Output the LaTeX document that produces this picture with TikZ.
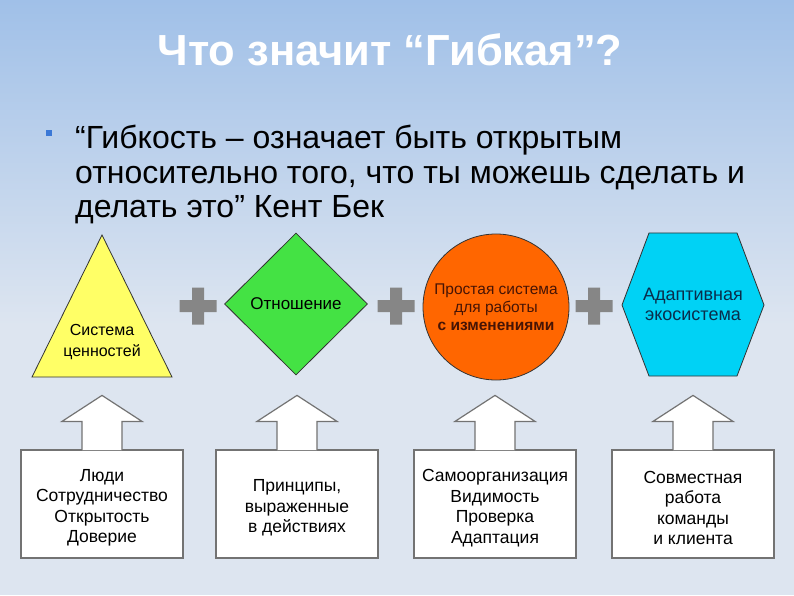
\documentclass[tikz,border=0pt]{standalone}
\usepackage{fontspec}
\setmainfont{Liberation Sans}
\usetikzlibrary{shapes,positioning,calc}

\definecolor{bgtop}{RGB}{160,192,232}
\definecolor{bgbot}{RGB}{221,229,240}
\definecolor{triyellow}{RGB}{255,255,102}
\definecolor{diagreen}{RGB}{68,226,68}
\definecolor{circorange}{RGB}{255,102,0}
\definecolor{hexcyan}{RGB}{0,210,245}
\definecolor{plusgray}{RGB}{134,134,134}
\definecolor{bulletblue}{RGB}{59,120,214}
\definecolor{circtext}{RGB}{70,20,5}
\definecolor{hextext}{RGB}{10,45,75}

\begin{document}
\begin{tikzpicture}[
        x=1pt, y=1pt,
        every node/.style={align=center, inner sep=0pt},
        shapeline/.style={draw=black!80, line width=0.8pt},
        shapetext/.style={font=\fontsize{16}{21}\selectfont},
        arrowbox/.style={draw=black!55, fill=white, line width=1.2pt, minimum width=162pt, minimum height=108pt},
        boxtext/.style={font=\fontsize{17.5}{20.5}\selectfont, yshift=-4pt}
    ]

    % Background
    \fill[bgbot] (0,0) rectangle (794,595);
    \shade[top color=bgtop, bottom color=bgbot] (0,595) rectangle (794,270);
    \useasboundingbox (0,0) rectangle (794,595);

    % Title and quote
    \node[text=white, font=\bfseries\fontsize{43.5}{48}\selectfont] (title) at (390,545) {Что значит “Гибкая”?};
    \fill[bulletblue] (46,459) rectangle (52,465);
    \node[anchor=north west, align=left, font=\fontsize{32}{34.5}\selectfont] (quote) at (75,470)
        {“Гибкость – означает быть открытым\\относительно того, что ты можешь сделать и\\делать это” Кент Бек};

    % Shapes
    \draw[shapeline, fill=triyellow] (102,360) -- (172,218) -- (32,218) -- cycle;
    \node[shapetext] (values) at (102,253) {Система\\ценностей};

    \node[diamond, shapeline, fill=diagreen, minimum width=143pt, minimum height=142pt,
        font=\fontsize{17}{21}\selectfont] (attitude) at (296,291) {Отношение};

    \node[circle, shapeline, fill=circorange, minimum size=146pt, text=circtext,
        font=\fontsize{15.5}{18}\selectfont] (process) at (496,288)
        {Простая система\\для работы\\\textbf{с изменениями}};

    \draw[shapeline, fill=hexcyan] (622,290) -- (649,362) -- (737,362) -- (764,290)
        -- (737,219) -- (649,219) -- cycle;
    \node[font=\fontsize{18}{20}\selectfont, text=hextext] (ecosystem) at (693,291) {Адаптивная\\экосистема};

    % Plus signs
    \foreach \x in {198,396,594}
        \fill[plusgray] (\x-18.5,283) rectangle (\x+18.5,295)
            (\x-6,270.5) rectangle (\x+6,307.5);

    % Boxes with arrows
    \node[arrowbox] (people) at (102,91) {};
    \node[arrowbox] (principles) at (297,91) {};
    \node[arrowbox] (scrum) at (495,91) {};
    \node[arrowbox] (teamwork) at (693,91) {};

    \foreach \n in {people,principles,scrum,teamwork}
        \filldraw[arrowbox] ($(\n.north)+(-20,-0.8)$) -- ++(0,28.8) -- ++(-20,0) -- ++(40,26)
            -- ++(40,-26) -- ++(-20,0) -- ++(0,-28.8);

    \node[boxtext] (peopletext) at (people) {Люди\\Сотрудничество\\Открытость\\Доверие};
    \node[boxtext] (principlestext) at (principles) {Принципы,\\выраженные\\в действиях};
    \node[boxtext] (scrumtext) at (scrum) {Самоорганизация\\Видимость\\Проверка\\Адаптация};
    \node[boxtext] (teamworktext) at (teamwork) {Совместная\\работа\\команды\\и клиента};

\end{tikzpicture}
\end{document}
